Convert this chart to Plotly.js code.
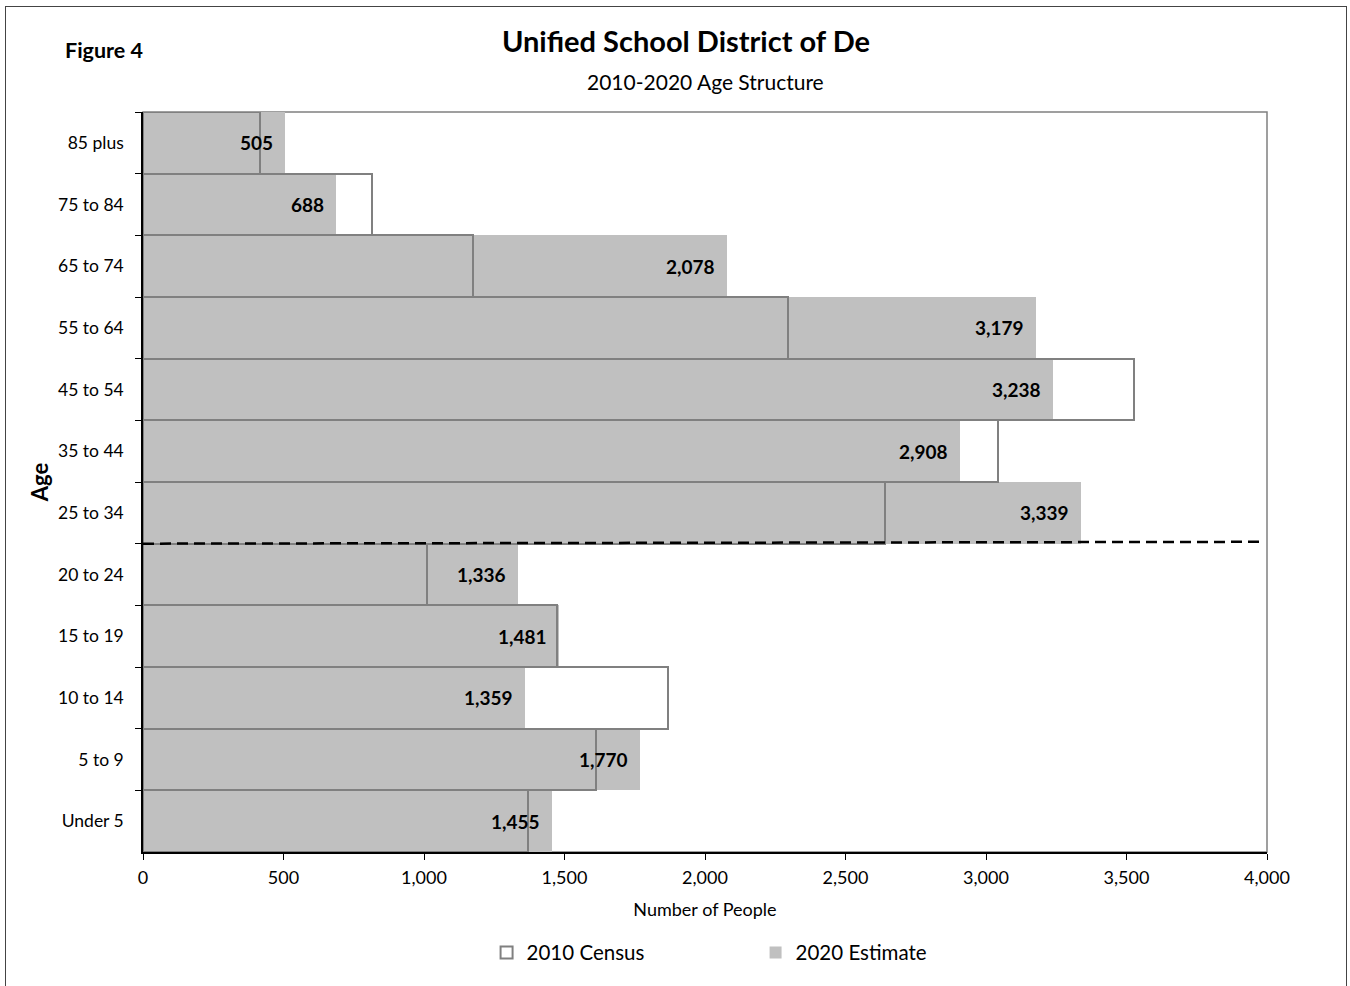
<!DOCTYPE html>
<html>
<head>
<meta charset="utf-8">
<script src="https://cdn.plot.ly/plotly-3.0.1.min.js"></script>
<style>
  html, body { margin: 0; padding: 0; background: #fff; }
  #wrap { position: relative; width: 1350px; height: 986px; }
  #chart { width: 1350px; height: 986px; }
  #frame { position: absolute; left: 5px; top: 6px; width: 1342px; height: 990px;
           border: 1px solid #444; pointer-events: none; box-sizing: border-box; }
</style>
</head>
<body>
<div id="wrap">
  <div id="chart"></div>
  <div id="frame"></div>
</div>
<script>
// Data (top-to-bottom as displayed)
const ageGroups = ["85 plus", "75 to 84", "65 to 74", "55 to 64", "45 to 54", "35 to 44",
                   "25 to 34", "20 to 24", "15 to 19", "10 to 14", "5 to 9", "Under 5"];
const census2010 = [416, 815, 1174, 2295, 3527, 3043, 2641, 1011, 1473, 1868, 1612, 1370];
const estimate2020 = [505, 688, 2078, 3179, 3238, 2908, 3339, 1336, 1481, 1359, 1770, 1455];
const xTickValues = [0, 500, 1000, 1500, 2000, 2500, 3000, 3500, 4000];

const FONT = "Lato, 'Open Sans', 'Liberation Sans', sans-serif";

const traces = [
  {
    type: "bar", orientation: "h", name: "2020 Estimate",
    y: ageGroups, x: estimate2020,
    marker: { color: "#c0c0c0", line: { width: 0 } },
    hoverinfo: "x+y"
  },
  {
    type: "bar", orientation: "h", name: "2010 Census",
    y: ageGroups, x: census2010,
    marker: { color: "rgba(255,255,255,0)", line: { color: "#808080", width: 2 } },
    hoverinfo: "x+y"
  }
];

const fmt = v => v.toLocaleString("en-US");
const labelAnnotations = ageGroups.map((g, i) => ({
  x: estimate2020[i], y: g, xref: "x", yref: "y",
  text: "<b>" + fmt(estimate2020[i]) + "</b>",
  showarrow: false, xanchor: "right", yanchor: "middle", xshift: -10,
  font: { family: FONT, size: 19, color: "#000" }
}));

const layout = {
  width: 1350, height: 986,
  paper_bgcolor: "#fff", plot_bgcolor: "#fff",
  margin: { l: 143, r: 83, t: 112, b: 134, pad: 0 },
  barmode: "overlay", bargap: 0,
  font: { family: FONT, color: "#000" },
  title: {
    text: "<b>Unified School District of De</b>",
    font: { family: FONT, size: 29, color: "#000" },
    xref: "paper", x: (686 - 143) / 1124, xanchor: "center",
    yref: "container", y: 1 - 42 / 986, yanchor: "middle"
  },
  xaxis: {
    range: [0, 4000], tickvals: xTickValues, ticktext: xTickValues.map(fmt),
    showgrid: false, zeroline: false,
    showline: true, linecolor: "#000", linewidth: 1.5,
    ticks: "outside", ticklen: 6, tickcolor: "#000", tickwidth: 1.2,
    tickfont: { family: FONT, size: 18, color: "#000" },
    ticklabelstandoff: 3,
    title: { text: "Number of People", font: { family: FONT, size: 18, color: "#000" }, standoff: 16 },
    fixedrange: true
  },
  yaxis: {
    type: "category", categoryorder: "array", categoryarray: ageGroups,
    autorange: "reversed",
    showgrid: false, zeroline: false,
    showline: true, linecolor: "#000", linewidth: 1.5,
    ticks: "outside", ticklen: 6, tickcolor: "#000", tickwidth: 1.2,
    tickson: "boundaries",
    tickfont: { family: FONT, size: 17.5, color: "#000" },
    ticklabelstandoff: 14,
    title: { text: "<b>Age</b>", font: { family: FONT, size: 22, color: "#000" }, standoff: 3 },
    fixedrange: true
  },
  showlegend: true,
  legend: {
    orientation: "h", traceorder: "reversed",
    x: 0.545, xanchor: "center", xref: "paper",
    y: -0.136, yanchor: "middle",
    font: { family: FONT, size: 20.5, color: "#000" },
    entrywidth: 224, entrywidthmode: "pixels",
    itemclick: false, itemdoubleclick: false
  },
  shapes: [
    { type: "rect", xref: "paper", yref: "paper", x0: 0, x1: 1, y0: 0, y1: 1,
      line: { color: "#808080", width: 1.5 }, layer: "below" },
    { type: "line", xref: "x", yref: "y", x0: 0, x1: 3980, y0: 6.5, y1: 6.47,
      line: { color: "#000", width: 2.5, dash: "11px,6px" }, layer: "above" }
  ],
  annotations: labelAnnotations.concat([
    { text: "2010-2020 Age Structure", xref: "paper", x: 0.5, xanchor: "center",
      yref: "paper", y: 1 + (112 - 81) / 740, yanchor: "middle", showarrow: false,
      font: { family: FONT, size: 21, color: "#000" } },
    { text: "<b>Figure 4</b>", xref: "paper", x: (63 - 143) / 1124, xanchor: "left",
      yref: "paper", y: 1 + (112 - 50) / 740, yanchor: "middle", showarrow: false,
      font: { family: FONT, size: 21.5, color: "#000" } }
  ])
};

Plotly.newPlot("chart", traces, layout, { displayModeBar: false, staticPlot: false });
</script>
</body>
</html>
